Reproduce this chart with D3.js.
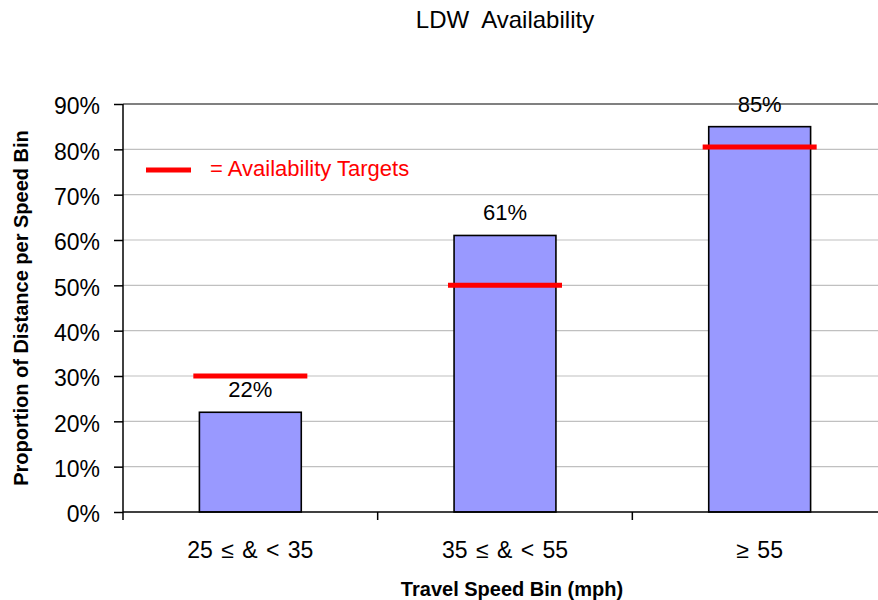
<!DOCTYPE html>
<html>
<head>
<meta charset="utf-8">
<script src="https://cdn.jsdelivr.net/npm/d3@7"></script>
<style>
  html, body { margin: 0; padding: 0; background: #fff; }
  svg { display: block; font-family: "Liberation Sans", Arial, sans-serif; }
</style>
</head>
<body>
<svg id="chart" width="878" height="600"></svg>
<script>
// Travel speed bins and share of distance with LDW available
const categories = ["25 \u2264 & < 35", "35 \u2264 & < 55", "\u2265 55"];
const availability = [0.22, 0.61, 0.85];
const targets = [0.30, 0.50, 0.805];
const yTicks = [0, 0.1, 0.2, 0.3, 0.4, 0.5, 0.6, 0.7, 0.8, 0.9];

const svg = d3.select("#chart");
const plotLeft = 123, plotRight = 887, plotTop = 104, plotBottom = 512;

const x = d3.scaleBand().domain(categories).range([plotLeft, plotRight]).padding(0);
const y = d3.scaleLinear().domain([0, 0.9]).range([plotBottom, plotTop]);
const bw = x.bandwidth() * 0.4;

// Horizontal gridlines
svg.append("g").selectAll("line")
  .data(yTicks.filter(t => t > 0))
  .join("line")
  .attr("x1", plotLeft).attr("x2", plotRight)
  .attr("y1", d => y(d)).attr("y2", d => y(d))
  .attr("stroke", d => d === 0.9 ? "#808080" : "#c0c0c0")
  .attr("stroke-width", d => d === 0.9 ? 2 : 1.2);

// Bars
svg.append("g").selectAll("rect")
  .data(categories)
  .join("rect")
  .attr("x", (d) => x(d) + (x.bandwidth() - bw) / 2)
  .attr("width", bw)
  .attr("y", (d, i) => y(availability[i]))
  .attr("height", (d, i) => y(0) - y(availability[i]))
  .attr("fill", "#9999ff")
  .attr("stroke", "#000")
  .attr("stroke-width", 1.6);

// Value labels
svg.append("g").selectAll("text")
  .data(categories)
  .join("text")
  .attr("x", d => x(d) + x.bandwidth() / 2)
  .attr("y", (d, i) => y(availability[i]) - 15)
  .attr("text-anchor", "middle")
  .attr("font-size", 22)
  .attr("fill", "#000")
  .text((d, i) => d3.format(".0%")(availability[i]));

// Target markers
const tw = 114;
svg.append("g").selectAll("line")
  .data(categories)
  .join("line")
  .attr("x1", d => x(d) + x.bandwidth() / 2 - tw / 2)
  .attr("x2", d => x(d) + x.bandwidth() / 2 + tw / 2)
  .attr("y1", (d, i) => y(targets[i]))
  .attr("y2", (d, i) => y(targets[i]))
  .attr("stroke", "#ff0000")
  .attr("stroke-width", 5);

// Y axis
const yAxis = svg.append("g")
  .attr("transform", `translate(${plotLeft},0)`)
  .call(d3.axisLeft(y).tickValues(yTicks).tickFormat(d3.format(".0%")).tickSize(9).tickPadding(14));
yAxis.select(".domain").attr("stroke", "#000").attr("stroke-width", 1.5).attr("d", `M0,${plotTop}V${plotBottom + 8}`);
yAxis.selectAll(".tick line").attr("stroke", "#000").attr("stroke-width", 1.5);
yAxis.selectAll(".tick text")
  .attr("font-size", 23).attr("fill", "#000").attr("dy", "0.43em")
  .style("font-family", "'Liberation Sans', Arial, sans-serif");

// X axis with ticks at band boundaries
svg.append("line")
  .attr("x1", plotLeft).attr("x2", plotRight)
  .attr("y1", plotBottom).attr("y2", plotBottom)
  .attr("stroke", "#000").attr("stroke-width", 1.5);
svg.append("g").selectAll("line")
  .data(categories.slice(1))
  .join("line")
  .attr("x1", d => x(d)).attr("x2", d => x(d))
  .attr("y1", plotBottom).attr("y2", plotBottom + 8)
  .attr("stroke", "#000").attr("stroke-width", 1.5);
svg.append("g").selectAll("text")
  .data(categories)
  .join("text")
  .attr("x", d => x(d) + x.bandwidth() / 2)
  .attr("y", 558)
  .attr("text-anchor", "middle")
  .attr("font-size", 23)
  .attr("word-spacing", 2)
  .attr("fill", "#000")
  .text(d => d);

// Titles
svg.append("text")
  .attr("x", 505).attr("y", 28)
  .attr("text-anchor", "middle")
  .attr("font-size", 24)
  .attr("fill", "#000")
  .style("white-space", "pre")
  .text("LDW  Availability");

svg.append("text")
  .attr("x", 512).attr("y", 596)
  .attr("text-anchor", "middle")
  .attr("font-size", 20)
  .attr("font-weight", "bold")
  .attr("fill", "#000")
  .text("Travel Speed Bin (mph)");

svg.append("text")
  .attr("transform", "translate(28,308) rotate(-90)")
  .attr("text-anchor", "middle")
  .attr("font-size", 20)
  .attr("font-weight", "bold")
  .attr("fill", "#000")
  .text("Proportion of Distance per Speed Bin");

// Legend
svg.append("line")
  .attr("x1", 146).attr("x2", 191)
  .attr("y1", 170).attr("y2", 170)
  .attr("stroke", "#ff0000").attr("stroke-width", 5);
svg.append("text")
  .attr("x", 210).attr("y", 176)
  .attr("font-size", 22)
  .attr("fill", "#ff0000")
  .text("= Availability Targets");
</script>
</body>
</html>
